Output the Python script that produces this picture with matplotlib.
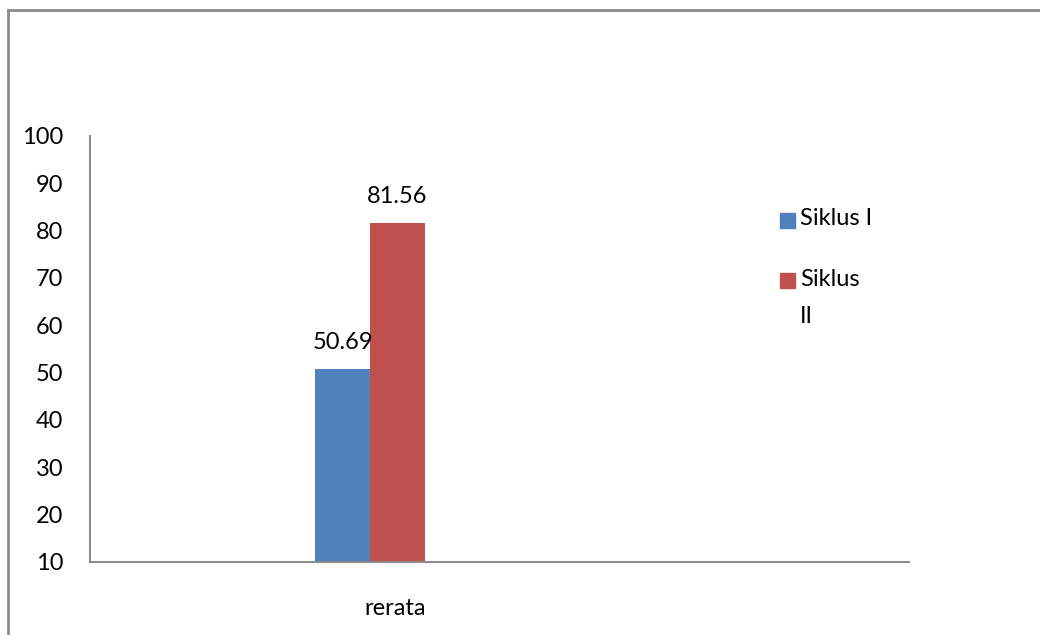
import matplotlib
matplotlib.use('Agg')
import matplotlib.pyplot as plt
import matplotlib.transforms as mtransforms
from matplotlib.lines import Line2D
from matplotlib.patches import Rectangle

# data
categories = ["rerata"]
series_names = ["Siklus I", "Siklus\nII"]
siklus_1 = [50.69]
siklus_2 = [81.56]
y_ticks = [10, 20, 30, 40, 50, 60, 70, 80, 90, 100]

colors = ["#4F81BD", "#C0504D"]
grey = "#8C8C8C"
fs = 17

plt.rcParams['font.family'] = ['Lato', 'DejaVu Sans']

fig = plt.figure(figsize=(10.4, 6.35), dpi=100)
ax = fig.add_axes([90/1040, 73/635, 819/1040, 426/635])

w = 0.2
x0 = 0
for i, vals in enumerate([siklus_1, siklus_2]):
    xs = [x0 + (i - 0.5) * w for _ in vals]
    ax.bar(xs, [v - 10 for v in vals], width=w, bottom=10, color=colors[i])
    for xx, v in zip(xs, vals):
        ax.annotate("%.2f" % v, (xx, v), xytext=(0, 12), textcoords="offset points",
                    ha="center", va="bottom", fontsize=fs)

ax.set_ylim(10, 100)
ax.set_xlim(-280/275, 539/275)
ax.set_yticks(y_ticks)
ax.set_xticks([x0])
ax.set_xticklabels(categories)
ax.tick_params(axis="y", length=0, pad=19, labelsize=fs)
ax.tick_params(axis="x", length=0, pad=26, labelsize=fs)
for lbl in ax.get_xticklabels():
    lbl.set_transform(lbl.get_transform() + mtransforms.ScaledTranslation(25/100, 0, fig.dpi_scale_trans))

for s in ["top", "right"]:
    ax.spines[s].set_visible(False)
for s in ["left", "bottom"]:
    ax.spines[s].set_color(grey)
    ax.spines[s].set_linewidth(1.5)

# legend drawn by hand so the square sits on the first text line
leg_y = [1 - 220/635, 1 - 281/635]
for name, c, yy in zip(series_names, colors, leg_y):
    fig.add_artist(Rectangle((780/1040, yy - 7.5/635), 15/1040, 15/635,
                             transform=fig.transFigure, color=c))
    fig.text(800/1040, yy + 12/635, name, ha="left", va="top", fontsize=fs,
             linespacing=1.95)

# outer chart frame
fig.add_artist(Line2D([8/1040, 8/1040], [0, 1 - 10/635], color=grey, lw=2))
fig.add_artist(Line2D([8/1040, 1], [1 - 10/635, 1 - 10/635], color=grey, lw=2))

fig.savefig("out.png", dpi=100)
